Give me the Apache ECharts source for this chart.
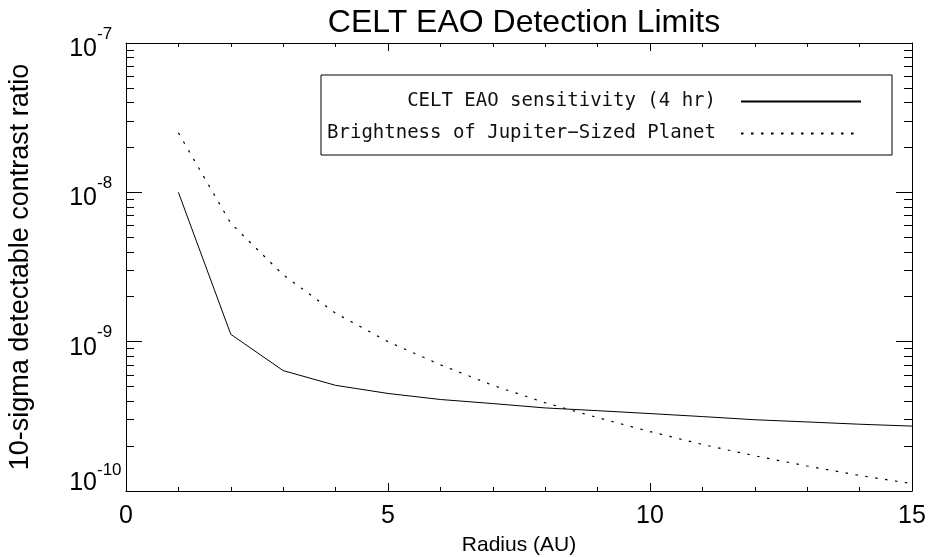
<!DOCTYPE html>
<html>
<head>
<meta charset="utf-8">
<script src="https://cdn.jsdelivr.net/npm/echarts@6/dist/echarts.min.js"></script>
<style>
html,body{margin:0;padding:0;background:#fff;}
#chart{width:929px;height:557px;}
</style>
</head>
<body>
<div id="chart"></div>
<script>
// ---- data ----
const radius = [1, 2, 3, 4, 5, 6, 7, 8, 9, 10, 11, 12, 13, 14, 15];
const sensitivity = [1.0e-8, 1.12e-9, 6.4e-10, 5.1e-10, 4.5e-10, 4.1e-10, 3.85e-10, 3.6e-10, 3.45e-10, 3.3e-10, 3.15e-10, 3.0e-10, 2.9e-10, 2.8e-10, 2.72e-10];
const jupiter = [2.5e-8, 6.2e-9, 2.8e-9, 1.55e-9, 1.0e-9, 7.0e-10, 5.1e-10, 3.9e-10, 3.1e-10, 2.5e-10, 2.05e-10, 1.72e-10, 1.47e-10, 1.27e-10, 1.12e-10];
const seriesNames = ['CELT EAO sensitivity (4 hr)', 'Brightness of Jupiter\u2212Sized Planet'];
const titleText = 'CELT EAO Detection Limits';
const xName = 'Radius (AU)';
const yName = '10-sigma detectable contrast ratio';

// minor tick positions (log10 units) for the log y axis: 2..9 x 10^e
const yMinorLog = [];
for (let e = -10; e <= -8; e++) {
  for (let k = 2; k <= 9; k++) yMinorLog.push(e + Math.log10(k));
}

const FONT = 'Liberation Sans';
const chart = echarts.init(document.getElementById('chart'));

const expOf = v => Math.round(Math.log10(v));
// base "10" of each y label
function yBase(v) {
  return expOf(v) === -10 ? '{lo|10}' : '{hi|10}';
}
// superscript exponent of each y label
function yExp(v) {
  const ex = expOf(v);
  return ex === -10 ? '{e2|' + ex + '}' : '{e|' + ex + '}';
}

const baseX = {
  type: 'value', min: 0, max: 15, interval: 5,
  axisLine: {show: true, onZero: false, lineStyle: {color: '#000', width: 1}},
  axisTick: {show: true, inside: true, length: 8, lineStyle: {color: '#000'}},
  minorTick: {show: true, splitNumber: 5, length: 4, lineStyle: {color: '#000'}},
  splitLine: {show: false}
};
const baseY = {
  type: 'log', logBase: 10, min: 1e-10, max: 1e-7,
  axisLine: {show: true, onZero: false, lineStyle: {color: '#000', width: 1}},
  axisTick: {show: true, inside: true, length: 16, lineStyle: {color: '#000'}},
  splitLine: {show: false}
};
const minorY = pos => ({
  type: 'value', min: -10, max: -7, position: pos,
  axisLine: {show: false, onZero: false},
  axisTick: {show: true, inside: true, length: 8, customValues: yMinorLog, lineStyle: {color: '#000'}},
  axisLabel: {show: false},
  splitLine: {show: false}
});

chart.setOption({
  animation: false,
  backgroundColor: '#fff',
  title: {
    text: titleText,
    left: 519, top: 2, textAlign: 'center',
    textStyle: {fontFamily: FONT, fontSize: 32, fontWeight: 'normal', color: '#000'}
  },
  grid: {left: 126, right: 17, top: 43, bottom: 66, containLabel: false, outerBoundsMode: 'none'},
  xAxis: [
    Object.assign({}, baseX, {
      position: 'bottom',
      name: xName, nameLocation: 'middle', nameGap: 44,
      nameTextStyle: {fontFamily: FONT, fontSize: 21, color: '#000'},
      axisLabel: {show: true, margin: 13, fontFamily: FONT, fontSize: 25, color: '#000'}
    }),
    Object.assign({}, baseX, {
      position: 'top',
      axisLabel: {show: false}
    })
  ],
  yAxis: [
    Object.assign({}, baseY, {
      position: 'left',
      name: yName, nameLocation: 'middle', nameGap: 92, nameRotate: 90,
      nameTextStyle: {fontFamily: FONT, fontSize: 27, color: '#000'},
      axisLabel: {
        show: true, margin: 29, formatter: yBase,
        rich: {
          hi: {fontFamily: FONT, fontSize: 25, color: '#000', lineHeight: 28, padding: [12, 0, 0, 0]},
          lo: {fontFamily: FONT, fontSize: 25, color: '#000', lineHeight: 28, padding: [0, 0, 16, 0]}
        }
      }
    }),
    Object.assign({}, baseY, {
      position: 'right',
      axisLabel: {show: false}
    }),
    minorY('left'),
    minorY('right'),
    Object.assign({}, baseY, {
      position: 'left',
      axisLine: {show: false, onZero: false},
      axisTick: {show: false},
      axisLabel: {
        show: true, margin: 29, align: 'left', formatter: yExp,
        rich: {
          e: {fontFamily: FONT, fontSize: 17, color: '#000', lineHeight: 18, padding: [0, 0, 18, 0]},
          e2: {fontFamily: FONT, fontSize: 17, color: '#000', lineHeight: 18, padding: [0, 0, 42, 0]}
        }
      }
    })
  ],
  legend: [
    {
      data: [seriesNames[0]], right: 67, top: 92, padding: 0,
      align: 'right', itemWidth: 120, itemHeight: 14,
      itemStyle: {opacity: 0},
      formatter: n => '{t|' + n + '}',
      textStyle: {rich: {t: {fontFamily: 'DejaVu Sans Mono', fontSize: 19, color: '#111', padding: [0, 20, 0, 0]}}}
    },
    {
      data: [seriesNames[1]], right: 67, top: 124, padding: 0,
      align: 'right', itemWidth: 120, itemHeight: 14,
      itemStyle: {opacity: 0},
      formatter: n => '{t|' + n + '}',
      textStyle: {rich: {t: {fontFamily: 'DejaVu Sans Mono', fontSize: 19, color: '#111', padding: [0, 20, 0, 0]}}}
    }
  ],
  graphic: [{
    type: 'rect', z: 100,
    shape: {x: 321, y: 75, width: 571, height: 80},
    style: {fill: 'none', stroke: '#000', lineWidth: 1}
  }],
  series: [
    {
      name: seriesNames[0], type: 'line', xAxisIndex: 0, yAxisIndex: 0,
      symbol: 'none', showSymbol: false, color: '#000',
      lineStyle: {color: '#000', width: 1, type: 'solid'},
      data: radius.map((r, i) => [r, sensitivity[i]])
    },
    {
      name: seriesNames[1], type: 'line', xAxisIndex: 0, yAxisIndex: 0,
      symbol: 'none', showSymbol: false, color: '#000',
      lineStyle: {color: '#000', width: 1.2, type: [2.5, 7.5]},
      data: radius.map((r, i) => [r, jupiter[i]])
    }
  ]
});
</script>
</body>
</html>
